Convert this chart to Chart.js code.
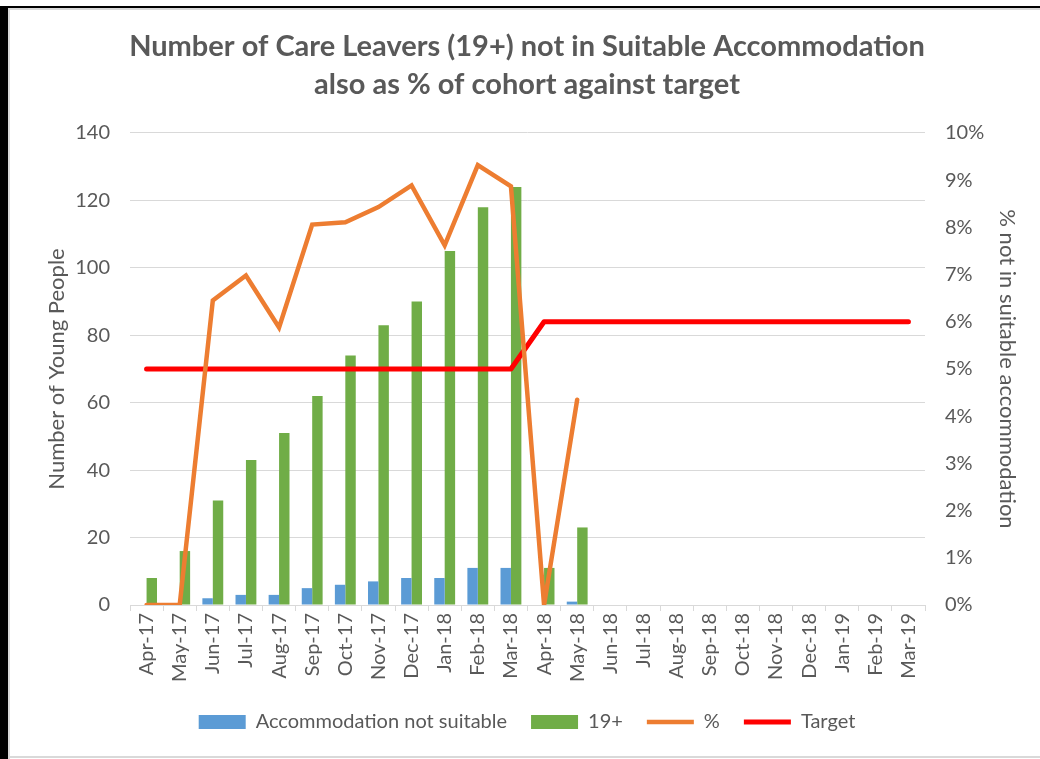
<!DOCTYPE html>
<html><head><meta charset="utf-8">
<script src="https://cdn.jsdelivr.net/npm/chart.js@4.4.1/dist/chart.umd.min.js"></script>
<style>
html,body{margin:0;padding:0;background:#fff;}
#wrap{position:relative;width:1040px;height:759px;overflow:hidden;background:#fff;}
canvas{position:absolute;left:0;top:0;}
.fr{position:absolute;}
</style></head><body>
<div id="wrap">
<canvas id="c" width="1040" height="759"></canvas>
<div class="fr" style="left:0;top:6px;width:1040px;height:2px;background:#000"></div>
<div class="fr" style="left:0;top:6px;width:8px;height:753px;background:#000"></div>
<div class="fr" style="left:8px;top:8px;width:1032px;height:2px;background:#d9d9d9"></div>
<div class="fr" style="left:8px;top:8px;width:2px;height:751px;background:#d9d9d9"></div>
<div class="fr" style="left:8px;top:756px;width:1032px;height:2px;background:#d9d9d9"></div>
</div>
<script>
const categories = ['Apr-17','May-17','Jun-17','Jul-17','Aug-17','Sep-17','Oct-17','Nov-17','Dec-17','Jan-18','Feb-18','Mar-18',
  'Apr-18','May-18','Jun-18','Jul-18','Aug-18','Sep-18','Oct-18','Nov-18','Dec-18','Jan-19','Feb-19','Mar-19'];
const notSuitable = [0,0,2,3,3,5,6,7,8,8,11,11,0,1,null,null,null,null,null,null,null,null,null,null];
const cohort19 = [8,16,31,43,51,62,74,83,90,105,118,124,11,23,null,null,null,null,null,null,null,null,null,null];
const pctNotSuitable = [0,0,6.45,6.98,5.88,8.06,8.11,8.43,8.89,7.62,9.32,8.87,0,4.35,null,null,null,null,null,null,null,null,null,null];
const target = [5,5,5,5,5,5,5,5,5,5,5,5,6,6,6,6,6,6,6,6,6,6,6,6];
const leftTicks = [0,20,40,60,80,100,120,140];
const rightTicks = [0,1,2,3,4,5,6,7,8,9,10];
const titleLines = ['Number of Care Leavers (19+) not in Suitable Accommodation','also as % of cohort against target'];

const FONT = 'Lato, "Noto Sans", sans-serif';
const GRAY = '#595959';
const GRID = '#d9d9d9';

new Chart(document.getElementById('c'), {
  type: 'bar',
  data: {
    labels: categories,
    datasets: [
      {type:'bar', label:'Accommodation not suitable', data:notSuitable, backgroundColor:'#5B9BD5', yAxisID:'y', order:3, pointStyle:'rect', categoryPercentage:0.63, barPercentage:1},
      {type:'bar', label:'19+', data:cohort19, backgroundColor:'#70AD47', yAxisID:'y', order:3, pointStyle:'rect', categoryPercentage:0.63, barPercentage:1},
      {type:'line', label:'%', data:pctNotSuitable, borderColor:'#ED7D31', backgroundColor:'#ED7D31', borderWidth:4.5, pointRadius:0, pointHoverRadius:0, yAxisID:'y1', order:1, pointStyle:'line', borderCapStyle:'round', borderJoinStyle:'miter', tension:0},
      {type:'line', label:'Target', data:target, borderColor:'#FF0000', backgroundColor:'#FF0000', borderWidth:5, pointRadius:0, pointHoverRadius:0, yAxisID:'y1', order:2, pointStyle:'line', borderCapStyle:'round', borderJoinStyle:'round', tension:0}
    ]
  },
  options: {
    responsive:false, animation:false, devicePixelRatio:1,
    layout:{padding:{left:14, right:0, top:0, bottom:17}},
    plugins:{
      title:{display:true, text:titleLines, color:GRAY, font:{family:FONT, size:29, weight:'bold', lineHeight:1.31}, padding:{top:28, bottom:29}},
      legend:{position:'bottom', labels:{usePointStyle:true, pointStyleWidth:47, boxHeight:14, color:GRAY, font:{family:FONT, size:20}, padding:24, sort:(a,b)=>a.datasetIndex-b.datasetIndex}},
      tooltip:{enabled:false}
    },
    scales:{
      x:{offset:true, grid:{offset:true, drawOnChartArea:false, drawTicks:true, tickLength:6, color:GRID}, border:{display:true, color:GRID},
         ticks:{color:GRAY, font:{family:FONT, size:20}, minRotation:90, maxRotation:90, autoSkip:false, padding:2},
         afterFit:s=>{s.height=83;}},
      y:{position:'left', min:0, max:140,
         afterBuildTicks:s=>{s.ticks=leftTicks.map(v=>({value:v}));},
         ticks:{color:GRAY, font:{family:FONT, size:20}, padding:20},
         grid:{color:GRID, drawTicks:false}, border:{display:false},
         title:{display:true, text:'Number of Young People', color:GRAY, font:{family:FONT, size:22}, padding:{top:30, bottom:0}},
         afterFit:s=>{s.width=116;}},
      y1:{position:'right', min:0, max:10,
         afterBuildTicks:s=>{s.ticks=rightTicks.map(v=>({value:v}));},
         ticks:{color:GRAY, font:{family:FONT, size:20}, padding:20, callback:v=>v+'%'},
         grid:{display:false, drawTicks:false}, border:{display:false},
         title:{display:true, text:'% not in suitable accommodation', color:GRAY, font:{family:FONT, size:22}, padding:{top:20, bottom:0}},
         afterFit:s=>{s.width=115;}}
    }
  }
});
</script>
</body></html>
